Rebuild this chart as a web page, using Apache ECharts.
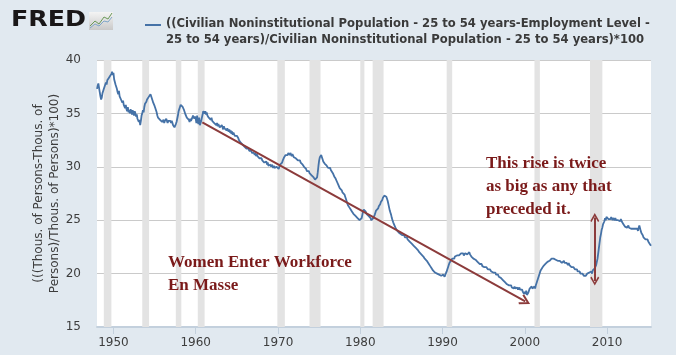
<!DOCTYPE html>
<html>
<head>
<meta charset="utf-8">
<script src="https://cdn.jsdelivr.net/npm/echarts@6/dist/echarts.min.js"></script>
<style>
html,body{margin:0;padding:0;background:#e1e9f0;}
#c{width:676px;height:355px;}
</style>
</head>
<body>
<div id="c"></div>
<script>
// Monthly values (percent), starting January 1948
const startYear = 1948;
const v1948_1949 = [
37.3,37.6,37.8,37.4,37.0,36.6,36.3,36.5,36.9,37.1,37.3,37.5,
37.6,37.9,37.7,38.1,38.0,38.3,38.2,38.5,38.4,38.7,38.9,38.6];
const v1950s = [
38.8,38.2,38.3,37.7,37.8,37.3,37.0,36.8,37.1,36.6,36.7,36.3,
36.4,36.0,36.2,35.8,35.9,35.5,35.8,35.4,35.2,35.6,35.1,35.3,
35.0,35.4,35.1,34.9,35.3,35.0,34.8,35.2,35.0,34.7,34.9,34.5,
34.6,34.2,34.4,33.9,34.3,34.8,35.0,35.3,35.1,35.6,35.9,36.0,
36.1,36.3,36.2,36.5,36.4,36.6,36.8,36.6,36.5,36.2,36.0,35.9,
35.7,35.5,35.6,35.1,34.8,34.6,34.5,34.7,34.4,34.3,34.5,34.2,
34.3,34.4,34.1,34.3,34.2,34.5,34.3,34.1,34.3,34.4,34.2,34.3,
34.1,34.3,34.2,33.9,34.0,33.7,33.6,34.0,34.2,34.5,34.8,35.2,
35.4,35.6,35.8,35.9,35.8,35.6,35.5,35.3,35.2,34.9,34.8,34.6,
34.5,34.6,34.4,34.2,34.5,34.3,34.4,34.6,34.8,34.9,34.5,34.7];
const v1960s = [
34.5,34.1,34.8,34.2,34.0,34.6,33.9,33.8,34.3,34.6,34.9,35.2,
35.3,35.0,35.2,34.9,35.1,34.8,34.9,34.6,34.7,34.5,34.4,34.6,
34.3,34.2,34.4,34.1,34.0,34.2,33.9,34.1,33.8,34.0,33.9,33.7,
33.8,33.6,33.9,33.7,33.5,33.8,33.6,33.5,33.7,33.4,33.6,33.5,
33.3,33.5,33.2,33.4,33.1,33.3,33.0,33.2,33.1,32.9,33.0,32.8,
32.9,32.8,32.7,32.5,32.4,32.3,32.4,32.2,32.1,32.2,32.0,31.9,
31.8,31.9,31.7,31.8,31.6,31.7,31.5,31.6,31.4,31.5,31.3,31.4,
31.2,31.3,31.1,31.3,31.0,31.2,31.0,31.1,30.9,30.8,30.9,30.7,
30.8,30.6,30.5,30.7,30.4,30.5,30.3,30.5,30.2,30.4,30.1,30.2,
30.1,30.2,30.0,30.2,30.1,29.9,30.1,29.9,30.0,29.8,30.0,29.9];
const v1970s = [
29.9,29.8,30.0,30.2,30.1,30.3,30.4,30.6,30.7,30.9,31.0,31.1,
31.0,31.2,31.1,31.3,31.2,31.1,31.3,31.2,31.0,31.2,31.1,30.9,
31.0,30.9,30.8,30.9,30.7,30.6,30.7,30.5,30.6,30.4,30.3,30.4,
30.2,30.1,30.0,30.1,29.9,29.8,29.6,29.7,29.5,29.6,29.4,29.3,
29.4,29.2,29.1,29.2,29.0,28.9,28.8,28.8,28.7,29.0,29.5,30.1,
30.6,30.9,31.0,31.1,30.9,30.7,30.5,30.6,30.3,30.4,30.2,30.1,
30.0,29.9,30.0,29.8,29.9,29.7,29.8,29.6,29.4,29.3,29.1,29.0,
28.9,28.8,28.6,28.5,28.3,28.2,28.0,28.1,27.9,27.8,27.6,27.7,
27.5,27.4,27.2,27.0,26.8,26.6,26.4,26.5,26.2,26.1,26.0,25.9,
25.8,25.7,25.6,25.6,25.5,25.4,25.5,25.3,25.2,25.3,25.1,25.0];
const v1980s = [
25.1,24.9,25.2,25.5,25.8,26.0,26.1,25.9,25.8,25.6,25.7,25.5,
25.4,25.3,25.4,25.2,25.0,25.1,25.0,25.2,25.3,25.5,25.7,25.9,
25.8,26.0,26.1,26.3,26.4,26.5,26.7,26.8,26.9,27.1,27.2,27.3,
27.4,27.3,27.2,27.0,26.8,26.5,26.2,25.9,25.7,25.5,25.2,25.0,
24.8,24.7,24.5,24.4,24.2,24.1,24.0,24.0,23.9,23.8,23.9,23.7,
23.7,23.6,23.7,23.5,23.6,23.4,23.5,23.3,23.4,23.2,23.1,23.2,
23.0,22.9,23.0,22.8,22.7,22.8,22.6,22.7,22.5,22.4,22.5,22.3,
22.2,22.1,22.0,22.0,21.9,21.8,21.7,21.7,21.6,21.5,21.4,21.4,
21.3,21.2,21.1,21.1,20.9,20.8,20.7,20.6,20.5,20.4,20.3,20.2,
20.2,20.1,20.0,20.1,20.0,19.9,20.0,19.9,19.8,19.9,19.8,19.9];
const v1990s = [
19.8,19.9,19.8,19.7,19.9,20.0,20.2,20.4,20.6,20.8,21.0,21.1,
21.2,21.3,21.4,21.3,21.5,21.4,21.6,21.5,21.6,21.7,21.6,21.8,
21.7,21.8,21.7,21.9,21.8,21.8,21.9,21.7,21.8,21.9,21.8,21.9,
21.8,21.9,21.8,22.0,21.8,21.7,21.6,21.7,21.5,21.4,21.5,21.4,
21.3,21.2,21.3,21.1,21.0,21.1,20.9,21.0,20.8,20.9,20.7,20.8,
20.7,20.6,20.7,20.5,20.6,20.5,20.4,20.5,20.3,20.4,20.3,20.2,
20.3,20.2,20.1,20.2,20.0,20.1,19.9,20.0,19.8,19.9,19.7,19.8,
19.7,19.6,19.5,19.6,19.4,19.3,19.4,19.2,19.3,19.1,19.0,19.1,
19.0,18.9,19.0,18.8,18.9,18.7,18.8,18.7,18.6,18.8,18.6,18.7,
18.6,18.7,18.5,18.6,18.7,18.5,18.6,18.4,18.5,18.3,18.2,18.1];
const v2000s = [
18.3,18.1,18.4,18.0,17.9,18.2,18.4,18.6,18.5,18.7,18.8,18.6,
18.7,18.6,18.8,18.6,18.9,19.1,19.3,19.5,19.6,19.9,20.1,20.3,
20.4,20.5,20.6,20.7,20.6,20.8,20.9,21.0,21.0,21.1,21.2,21.1,
21.2,21.3,21.2,21.4,21.3,21.5,21.4,21.5,21.4,21.3,21.4,21.3,
21.2,21.3,21.1,21.2,21.1,21.2,21.0,21.1,21.0,21.2,21.0,21.1,
20.9,21.0,20.9,20.8,21.0,20.8,20.7,20.8,20.6,20.7,20.5,20.6,
20.5,20.4,20.5,20.3,20.4,20.2,20.3,20.1,20.2,20.0,20.1,19.9,
20.0,19.9,19.8,19.9,19.7,19.8,19.9,20.0,20.1,19.9,20.1,20.0,
20.1,20.2,20.0,20.3,20.2,20.4,20.5,20.6,20.8,21.1,21.4,21.9,
22.4,22.9,23.4,23.7,24.1,24.3,24.6,24.7,24.9,25.2,25.0,25.3];
const v2010s = [
25.2,25.3,25.1,25.0,25.2,25.1,25.3,25.2,25.0,25.2,25.1,25.0,
25.2,25.0,25.1,24.9,25.0,25.1,25.0,24.9,25.1,25.0,24.8,24.7,
24.6,24.5,24.4,24.5,24.4,24.3,24.4,24.5,24.3,24.2,24.3,24.2,
24.3,24.1,24.2,24.3,24.1,24.2,24.3,24.1,24.2,24.0,24.3,24.5,
24.4,24.0,23.8,23.7,23.6,23.4,23.5,23.3,23.2,23.3,23.1,23.2,
23.0,22.9,22.8,22.7,22.6];

// NBER recession periods (decimal years)
const recStarts = [1948.83, 1953.50, 1957.58, 1960.25, 1969.92, 1973.83, 1980.00, 1981.50, 1990.50, 2001.17, 2007.92];
const recEnds   = [1949.75, 1954.33, 1958.25, 1961.08, 1970.83, 1975.17, 1980.50, 1982.83, 1991.17, 2001.83, 2009.42];

// Axis ticks
const xTicks = [1950, 1960, 1970, 1980, 1990, 2000, 2010];
const yTicks = [15, 20, 25, 30, 35, 40];

// Annotation arrows (year, value)
const trendArrow = [[1960.8, 34.15], [2000.05, 17.4]];
const riseArrow = [[2008.5, 19.3], [2008.5, 25.25]];

const seriesName = '((Civilian Noninstitutional Population - 25 to 54 years-Employment Level -\n25 to 54 years)/Civilian Noninstitutional Population - 25 to 54 years)*100';
const yName = '(((Thous. of Persons-Thous. of\nPersons)/Thous. of Persons)*100)';
const note1 = 'This rise is twice\nas big as any that\npreceded it.';
const note2 = 'Women Enter Workforce\nEn Masse';

const values = [].concat(v1948_1949, v1950s, v1960s, v1970s, v1980s, v1990s, v2000s, v2010s);
const points = values.map((v, i) => [startYear + i / 12, v]);

const chev = 'path://M5,0 L10,9 L8.6,10.2 L5,3.6 L1.4,10.2 L0,9 Z';
const legendIcon = 'path://M0,0 L16,0 L16,2 L0,2 Z M0,16 L0.05,16 L0.05,16.05 L0,16.05 Z';

const chart = echarts.init(document.getElementById('c'), null, {renderer: 'canvas'});
chart.setOption({
  animation: false,
  backgroundColor: '#e1e9f0',
  textStyle: {fontFamily: 'DejaVu Sans'},
  grid: {left: 97, right: 25, top: 60, bottom: 28, show: true, backgroundColor: '#ffffff', borderWidth: 0},
  legend: {
    left: 140, top: 11,
    itemWidth: 16, itemHeight: 16,
    icon: legendIcon,
    textStyle: {fontFamily: '"DejaVu Sans Condensed", sans-serif', fontWeight: 'bold', fontSize: 12.9, color: '#3a3a3a', lineHeight: 16},
    data: [seriesName]
  },
  xAxis: {
    type: 'value', min: startYear, max: 'dataMax',
    axisLine: {show: true, lineStyle: {color: '#c3d0dd', width: 2}},
    axisTick: {show: true, customValues: xTicks, length: 7, lineStyle: {color: '#c3d0dd', width: 1}},
    axisLabel: {customValues: xTicks, color: '#3d3d3d', fontSize: 12, margin: 10, formatter: v => String(Math.round(v))},
    splitLine: {show: false}
  },
  yAxis: {
    type: 'value', min: 15, max: 40, interval: 5,
    name: yName, nameLocation: 'middle', nameGap: 34, nameRotate: 90, nameMoveOverlap: false,
    nameTextStyle: {color: '#3d3d3d', fontSize: 12, lineHeight: 16},
    axisLine: {show: false}, axisTick: {show: false},
    axisLabel: {color: '#3d3d3d', fontSize: 12, margin: 16},
    splitLine: {lineStyle: {color: '#cacaca', width: 1}}
  },
  series: [{
    name: seriesName,
    type: 'line',
    data: points,
    showSymbol: false,
    color: '#4572a7',
    lineStyle: {color: '#4572a7', width: 1.8},
    z: 3,
    markArea: {
      silent: true,
      itemStyle: {color: '#e3e3e3'},
      data: recStarts.map((s, i) => [{xAxis: s}, {xAxis: recEnds[i]}])
    },
    markLine: {
      silent: true,
      symbolSize: [10, 10],
      label: {show: false},
      lineStyle: {color: '#8c3b3b', width: 2, type: 'solid'},
      emphasis: {disabled: true},
      data: [
        [{coord: trendArrow[0], symbol: 'none'}, {coord: trendArrow[1], symbol: chev, symbolSize: [11, 11]}],
        [{coord: riseArrow[0], symbol: chev, symbolSize: [9, 9]}, {coord: riseArrow[1], symbol: chev, symbolSize: [9, 9]}]
      ]
    }
  }],
  graphic: [
    {type: 'text', z: 100, x: 11, y: 9, scaleX: 1.15, style: {text: 'FRED', font: 'bold 22px "DejaVu Sans"', fill: '#1a1718'}},
    {type: 'rect', z: 100, shape: {x: 89, y: 12, width: 24, height: 18}, style: {fill: {type: 'linear', x: 0, y: 0, x2: 0, y2: 1, colorStops: [{offset: 0, color: '#f4f4f4'}, {offset: 1, color: '#c9c9c9'}]}}},
    {type: 'polyline', z: 101, shape: {points: [[90, 26], [95, 21], [99, 24], [104, 17], [108, 19], [112, 13]]}, style: {stroke: '#6b9a5a', lineWidth: 1, fill: null}},
    {type: 'polyline', z: 101, shape: {points: [[90, 28], [95, 24], [99, 26], [104, 21], [108, 22], [112, 17]]}, style: {stroke: '#7fa6c9', lineWidth: 1, fill: null}},
    {type: 'text', z: 100, x: 486, y: 152, style: {text: note1, font: 'bold 17px "Liberation Serif"', fill: '#7a1a1a', lineHeight: 23}},
    {type: 'text', z: 100, x: 168, y: 251, style: {text: note2, font: 'bold 17px "Liberation Serif"', fill: '#7a1a1a', lineHeight: 23}}
  ]
});
</script>
</body>
</html>
